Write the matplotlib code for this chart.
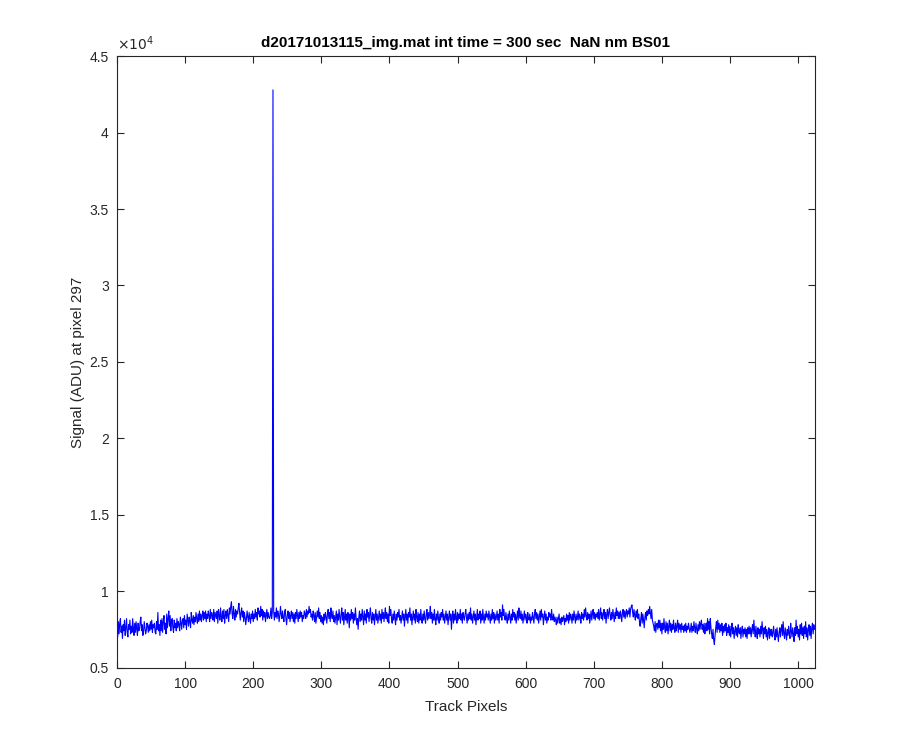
import matplotlib
matplotlib.use("Agg")
import matplotlib.pyplot as plt
import numpy as np

plt.rcParams['font.family'] = ['Liberation Sans', 'DejaVu Sans']

title_text = "d20171013115_img.mat int time = 300 sec  NaN nm BS01"
x_label = "Track Pixels"
y_label = "Signal (ADU) at pixel 297"
x_ticks = [0, 100, 200, 300, 400, 500, 600, 700, 800, 900, 1000]
y_ticks = [5000, 10000, 15000, 20000, 25000, 30000, 35000, 40000, 45000]
y_tick_labels = ["0.5", "1", "1.5", "2", "2.5", "3", "3.5", "4", "4.5"]

seg_000 = [7000, 8000, 7200, 7900, 8200, 7300, 7700, 6900, 7800, 7400, 8100, 7100, 7600, 8200, 7300, 7000, 7800, 7500, 8100, 7200, 7700, 7300, 8200, 7600, 7100, 7900, 7300, 8000, 7500, 7100, 7900, 7400,
           7500, 8000, 8300, 7400, 7800, 7100, 7400, 8000, 7600, 7200, 7400, 7900, 7700, 7300, 7800, 7400, 8000, 7500, 8100, 7300, 7800, 7600, 7900, 7300, 7200, 8000, 7500, 8600, 7400, 7800, 7100, 8100,
           7400, 8200, 7300, 8000, 8400, 7500, 7900, 7200, 8500, 7600, 8200, 8700, 7700, 8400, 7400, 8000, 8200, 7600, 7300, 8100, 7600, 7900, 7400, 8200, 7600, 8000, 7800, 7400, 8300, 7900, 7500, 8100,
           8200, 7600, 8400, 7800, 8100, 7500, 8500, 8100, 7700, 8300, 8000, 7600, 8600, 8100, 7900, 8400, 7800, 8300, 8000, 8600, 8200, 7900, 8500, 8000, 8700, 8100, 8500, 8000, 8400, 8700, 8100, 8600]
seg_128 = [8200, 8700, 8000, 8500, 8200, 8700, 8400, 8000, 8800, 8200, 8600, 8400, 8100, 8800, 8000, 8600, 8400, 8200, 8700, 7900, 8800, 8400, 8100, 8900, 8300, 8000, 8700, 8200, 8800, 7900, 8400, 8700,
           8200, 8800, 8400, 8000, 8900, 8500, 9000, 9300, 8500, 8200, 9000, 8500, 8100, 8800, 8300, 8700, 8500, 8900, 9200, 8600, 8100, 8600, 8900, 8300, 8700, 8000, 8600, 8300, 7800, 8200, 8700, 8300,
           8000, 8600, 8200, 7900, 8500, 8200, 8700, 8000, 8500, 8200, 8800, 8300, 8600, 8100, 8900, 8500, 8700, 8300, 9000, 8400, 8800, 8100, 8700, 8300, 8600, 8000, 8400, 8800, 8200, 8600, 8300, 8200,
           8400, 8900, 8200, 8600, 42800, 8700, 8100, 8600, 8300, 8900, 8200, 8700, 8500, 8000, 8400, 9000, 8500, 8200, 8700, 8300, 8000, 8600, 8800, 8200, 7800, 8400, 8700, 8200, 8600, 8000, 8400, 8700]
seg_256 = [8200, 8600, 8000, 8500, 7900, 8600, 8200, 8800, 8400, 8000, 8600, 8200, 8700, 8300, 8600, 8000, 8400, 8200, 8700, 8500, 8200, 8800, 8300, 8700, 8500, 9000, 8600, 8800, 8300, 8500, 8100, 8700,
           8400, 8000, 8600, 7900, 8300, 8700, 8300, 8900, 8200, 8600, 8000, 8400, 7900, 8300, 7800, 8500, 8100, 8600, 8300, 7900, 8500, 8800, 8200, 8600, 8000, 8900, 8400, 8200, 8700, 8000, 8400, 7900,
           8300, 8700, 7800, 8500, 8100, 8800, 8300, 7900, 8500, 8900, 8100, 8600, 7800, 8300, 8800, 8100, 8500, 7900, 8600, 8300, 7600, 8500, 8100, 8800, 8200, 8600, 7900, 8500, 8100, 8900, 8300, 7800,
           8200, 7500, 8300, 8700, 8000, 8500, 8100, 8800, 8300, 7800, 8700, 8100, 8500, 7900, 8800, 8300, 8600, 8000, 8500, 8900, 8200, 7900, 8600, 8100, 8500, 7800, 8300, 8800, 8100, 8500, 7900, 8300]
seg_384 = [8700, 8100, 8500, 7900, 8800, 8200, 8600, 8000, 8500, 8900, 8200, 8600, 8000, 8500, 7900, 9000, 8400, 8800, 8200, 7900, 8500, 8100, 8700, 8200, 7800, 8500, 8100, 8600, 8300, 8800, 8100, 8400,
           7900, 8300, 8700, 8100, 8500, 7700, 8300, 8800, 8100, 8500, 7900, 8600, 8300, 8900, 8100, 8500, 7800, 8300, 8700, 8100, 8500, 7900, 8800, 8300, 8000, 8600, 7900, 8500, 8100, 8800, 8200, 7900,
           8500, 8100, 8700, 8200, 7900, 8500, 8800, 8100, 8600, 8200, 8500, 9000, 8200, 8600, 7900, 8500, 8100, 8800, 8200, 7800, 8500, 8100, 8700, 8200, 7900, 8500, 8100, 8600, 8300, 8800, 8100, 8500,
           7900, 8300, 8700, 8100, 8500, 7800, 8300, 8700, 8100, 8500, 7500, 8300, 8700, 7900, 8500, 8100, 8800, 8300, 7900, 8600, 8100, 8500, 8200, 8800, 8100, 8500, 7900, 8600, 8300, 8100, 8500, 8800]
seg_512 = [8300, 7900, 8500, 8100, 8600, 8200, 8900, 8100, 8500, 7900, 8300, 8700, 8100, 8500, 7800, 8300, 8800, 8100, 8500, 8200, 8700, 7900, 8500, 8100, 8800, 8300, 7900, 8500, 8100, 8700, 8300, 8500,
           8100, 8700, 8300, 7900, 8500, 8100, 8800, 8200, 8600, 7900, 8500, 8100, 8300, 8700, 8100, 8500, 7900, 8800, 8300, 8600, 8100, 9100, 8400, 8800, 8200, 8100, 8600, 8200, 7900, 8500, 8100, 8700,
           8300, 7900, 8500, 8100, 8800, 8300, 8600, 8100, 8500, 7900, 8300, 8700, 8100, 8900, 8400, 8200, 8700, 8100, 8500, 7900, 8300, 8700, 8100, 8500, 8300, 7900, 8600, 8200, 8100, 8500, 7900, 8300,
           8100, 8600, 8300, 7900, 8500, 8800, 8200, 8600, 8100, 8500, 7900, 8300, 8700, 8100, 8800, 8300, 8500, 7800, 8300, 8700, 8100, 8500, 7900, 8300, 8100, 8600, 8300, 8500, 8100, 8800, 8300, 8100]
seg_640 = [8500, 8000, 8300, 8100, 7800, 8300, 7900, 8200, 8500, 7900, 8200, 7800, 8300, 8000, 8200, 8400, 7800, 8200, 8000, 8500, 8100, 8400, 7900, 8600, 8100, 8500, 8300, 7900, 8500, 8100, 8700, 8300,
           7900, 8500, 8100, 8300, 8700, 8100, 8500, 8300, 7900, 8600, 8200, 8500, 8100, 8800, 8300, 8900, 8400, 8100, 8600, 8200, 8500, 7900, 8300, 8700, 8100, 8500, 8800, 8200, 8600, 8100, 8500, 8300,
           8600, 8200, 8800, 8100, 8500, 8900, 8200, 8600, 8100, 8500, 8800, 8200, 8600, 7900, 8500, 8800, 8200, 8600, 8900, 8400, 8100, 8600, 8200, 8800, 8400, 8000, 8600, 8200, 8900, 8400, 8700, 8200,
           8600, 8200, 8700, 8400, 8000, 8600, 8800, 8300, 8700, 8200, 8600, 8800, 8300, 8700, 8500, 8900, 8300, 8800, 9000, 9100, 8600, 8300, 8800, 8400, 8100, 8700, 8300, 8800, 8200, 8500, 8000, 7700]
seg_768 = [8200, 8600, 7900, 8500, 8100, 7600, 8300, 8600, 8100, 8700, 8400, 8800, 8500, 9000, 8600, 8200, 8800, 8100, 7900, 7700, 7400, 8000, 7300, 7800, 7900, 7500, 8100, 7600, 8100, 7400, 7900, 7200,
           7900, 7500, 8200, 7600, 7300, 8000, 7400, 7900, 7200, 7700, 8100, 7400, 7900, 7300, 7800, 7500, 8100, 7600, 7300, 7900, 7400, 7700, 8100, 7300, 7900, 7500, 7800, 7300, 7900, 7500, 7700, 7300,
           7800, 7400, 7900, 7300, 7700, 7500, 7900, 7600, 7300, 7500, 7900, 7300, 7700, 7400, 8000, 7600, 7300, 7900, 7500, 7200, 7800, 7400, 8000, 7500, 7900, 8100, 7500, 7800, 7300, 7900, 7200, 7600,
           7900, 7400, 8200, 7500, 8000, 7200, 8200, 7600, 7200, 6900, 7500, 6800, 6500, 7100, 7600, 8000, 7300, 8100, 7500, 7900, 7300, 7800, 7400, 7900, 7100, 7700, 7300, 7800, 7400, 7900, 7100, 7600]
seg_896 = [7300, 7800, 7100, 7700, 7000, 7500, 7900, 7200, 7600, 6900, 7400, 7700, 7100, 7600, 7000, 7800, 7300, 7200, 7600, 6900, 7400, 7700, 7000, 7500, 7200, 7600, 7000, 7500, 6900, 7600, 7200, 7700,
           7200, 7600, 7000, 7500, 7800, 7200, 8100, 7400, 7000, 7700, 7200, 6900, 7600, 7200, 7500, 7000, 7700, 7200, 8000, 7400, 6900, 7600, 7200, 7700, 7000, 7500, 6800, 7300, 7600, 6900, 7500, 7100,
           7500, 7000, 7300, 7700, 7100, 6800, 7500, 7000, 7600, 7100, 6700, 7300, 7600, 7000, 7500, 7800, 7100, 8000, 7200, 6900, 7600, 7200, 6800, 7500, 7100, 7700, 7200, 6900, 7900, 7400, 7000, 7600,
           7200, 6700, 7600, 7100, 8100, 7200, 7700, 7000, 7500, 6800, 7800, 7200, 7900, 7100, 7600, 6900, 7700, 7200, 8000, 7000, 7600, 6800, 7500, 7800, 7100, 7700, 6900, 7600, 7900, 7200, 7800, 7500]

signal = seg_000 + seg_128 + seg_256 + seg_384 + seg_512 + seg_640 + seg_768 + seg_896
pixels = np.arange(1, len(signal) + 1)

fig = plt.figure(figsize=(9, 7.5), dpi=100)
ax = fig.add_axes([0.13, 0.11, 0.775, 0.815])
ax.plot(pixels, signal, color=(0, 0, 1), linewidth=0.8)

ax.set_xlim(0, 1024)
ax.set_ylim(5000, 45000)
ax.set_xticks(x_ticks)
ax.set_xticklabels([str(t) for t in x_ticks])
ax.set_yticks(y_ticks)
ax.set_yticklabels(y_tick_labels)

axis_color = (0.15, 0.15, 0.15)
for s in ax.spines.values():
    s.set_color(axis_color)
    s.set_linewidth(0.8)
ax.tick_params(direction='in', length=5, width=0.8, top=True, right=True,
               colors=axis_color, labelsize=10)
ax.tick_params(axis='x', pad=7)
ax.tick_params(axis='y', pad=6)

ax.set_title(title_text, fontsize=11, fontweight='bold', color='black', pad=7)
ax.set_xlabel(x_label, fontsize=11, color=axis_color, labelpad=6)
ax.set_ylabel(y_label, fontsize=11, color=axis_color, labelpad=3)
ax.text(0.0, 1.005, r'$\times10^{4}$', transform=ax.transAxes, fontsize=10,
        color=axis_color, ha='left', va='bottom')

fig.savefig("out.png", dpi=100)
